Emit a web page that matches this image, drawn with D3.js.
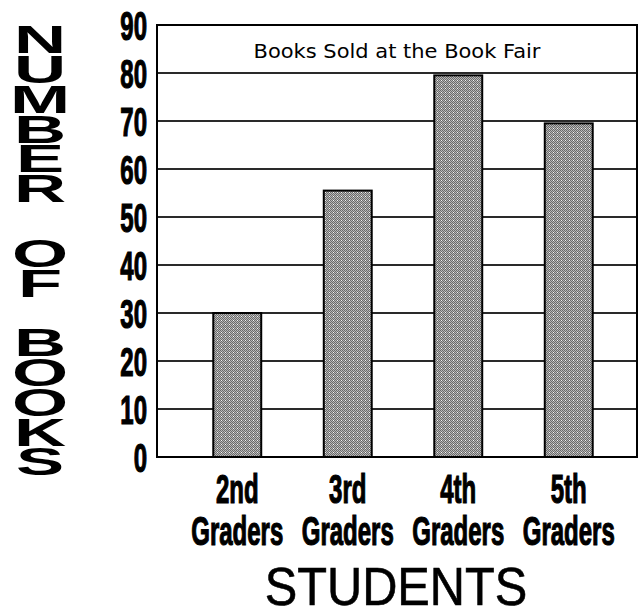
<!DOCTYPE html>
<html>
<head>
<meta charset="utf-8">
<script src="https://cdn.jsdelivr.net/npm/d3@7"></script>
<style>
  body { margin: 0; background: #fff; }
  svg { display: block; }
</style>
</head>
<body>
<svg id="chart" width="639" height="616"></svg>
<script>
// chart data
const grades = ['2nd', '3rd', '4th', '5th'];
const books = [30, 55.5, 79.5, 69.5];
const yTicks = [0, 10, 20, 30, 40, 50, 60, 70, 80, 90];
const chartTitle = 'Books Sold at the Book Fair';
const xTitle = 'STUDENTS';
const yTitleWords = ['NUMBER', 'OF', 'BOOKS'];

const svg = d3.select('#chart');

const plotLeft = 157, plotRight = 637, plotTop = 25, plotBottom = 457;

const y = d3.scaleLinear().domain([0, 90]).range([plotBottom, plotTop]);
const x = d3.scaleBand()
    .domain(grades)
    .range([182, 624])
    .paddingInner(0.566)
    .paddingOuter(0.283);

// checker fill for the bars
const defs = svg.append('defs');
const pat = defs.append('pattern')
    .attr('id', 'checker')
    .attr('width', 4).attr('height', 4)
    .attr('patternUnits', 'userSpaceOnUse');
pat.append('rect').attr('width', 4).attr('height', 4).attr('fill', '#b8b8b8');
[[0, 0], [2, 0], [1, 1], [3, 1], [0, 2], [2, 2], [1, 3], [3, 3]].forEach(([px, py]) => {
    pat.append('rect').attr('x', px).attr('y', py).attr('width', 1).attr('height', 1).attr('fill', '#6a6a6a');
});
pat.append('rect').attr('x', 1).attr('y', 0).attr('width', 1).attr('height', 1).attr('fill', '#f4f4f4');

// horizontal grid lines
svg.append('g')
    .selectAll('line')
    .data(yTicks.filter(d => d > 0 && d < 90))
    .join('line')
    .attr('x1', plotLeft).attr('x2', plotRight)
    .attr('y1', d => y(d)).attr('y2', d => y(d))
    .attr('stroke', '#2a2a2a')
    .attr('stroke-width', 2);

// bars
svg.append('g')
    .selectAll('rect')
    .data(grades)
    .join('rect')
    .attr('x', d => x(d))
    .attr('width', x.bandwidth())
    .attr('y', (d, i) => y(books[i]))
    .attr('height', (d, i) => y(0) - y(books[i]))
    .attr('fill', 'url(#checker)')
    .attr('stroke', '#000')
    .attr('stroke-width', 2);

// frame
svg.append('rect')
    .attr('x', plotLeft).attr('y', plotTop)
    .attr('width', plotRight - plotLeft).attr('height', plotBottom - plotTop)
    .attr('fill', 'none')
    .attr('stroke', '#000')
    .attr('stroke-width', 2);

// title inside the top row
svg.append('text')
    .attr('x', (plotLeft + plotRight) / 2)
    .attr('y', 58)
    .attr('text-anchor', 'middle')
    .style('font-family', 'DejaVu Sans, sans-serif')
    .style('font-size', '20px')
    .attr('textLength', 287)
    .attr('lengthAdjust', 'spacingAndGlyphs')
    .text(chartTitle);

// y axis labels (condensed bold)
const yAxis = svg.append('g')
    .attr('transform', `translate(${plotLeft},0)`)
    .call(d3.axisLeft(y).tickValues(yTicks).tickSize(0).tickFormat(d3.format('d')));
yAxis.select('.domain').remove();
yAxis.selectAll('text')
    .attr('x', -10 / 0.6)
    .attr('dy', '0.36em')
    .attr('transform', 'scale(0.6,1)')
    .attr('fill', '#000')
    .attr('stroke', '#000')
    .attr('stroke-width', 1.2)
    .style('font-family', 'Liberation Sans, Arial, sans-serif')
    .style('font-weight', 'bold')
    .style('font-size', '40px');

// x category labels, two lines each
const xLabels = svg.append('g')
    .selectAll('g')
    .data(grades)
    .join('g')
    .attr('transform', d => `translate(${x(d) + x.bandwidth() / 2},0)`);

[[d => d, 503], [d => 'Graders', 545]].forEach(([txt, base]) => {
    xLabels.append('text')
        .attr('transform', `translate(0,${base}) scale(0.6,1)`)
        .attr('text-anchor', 'middle')
        .attr('stroke', '#000')
        .attr('stroke-width', 1.2)
        .style('font-family', 'Liberation Sans, Arial, sans-serif')
        .style('font-weight', 'bold')
        .style('font-size', '40px')
        .text(txt);
});

// x axis title
svg.append('text')
    .attr('transform', `translate(${(plotLeft + plotRight) / 2 - 1},605) scale(0.92,1)`)
    .attr('text-anchor', 'middle')
    .attr('stroke', '#000')
    .attr('stroke-width', 0.6)
    .style('font-family', 'Liberation Sans, Arial, sans-serif')
    .style('font-size', '53px')
    .text(xTitle);

// y axis title, letters stacked with vertical writing mode
const wordTops = [19, 233, 322];
yTitleWords.forEach((word, w) => {
    svg.append('text')
        .attr('transform', `translate(40,${wordTops[w]}) scale(1.9,1)`)
        .style('writing-mode', 'vertical-rl')
        .style('text-orientation', 'upright')
        .style('letter-spacing', '-12.4px')
        .style('font-family', 'Liberation Sans, Arial, sans-serif')
        .style('font-weight', 'bold')
        .style('font-size', '38px')
        .text(word);
});
</script>
</body>
</html>
